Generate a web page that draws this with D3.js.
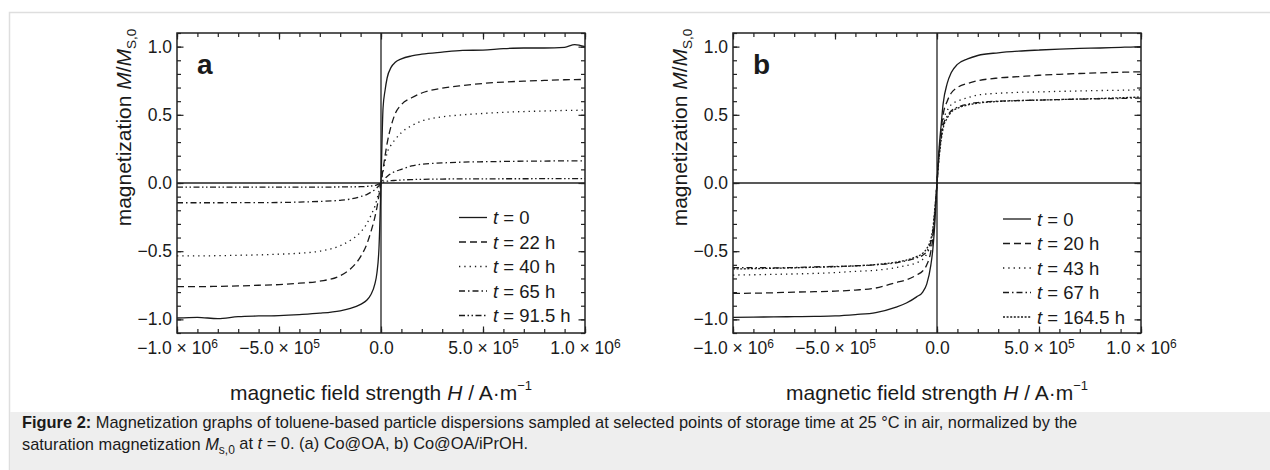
<!DOCTYPE html>
<html>
<head>
<meta charset="utf-8">
<script src="https://cdn.jsdelivr.net/npm/d3@7/dist/d3.min.js"></script>
<style>
  html, body { margin: 0; padding: 0; background: #ffffff; }
  svg { display: block; }
  text { font-family: "Liberation Sans", Arial, Helvetica, sans-serif; fill: #1a1a1a; }
</style>
</head>
<body>
<svg id="chart" width="1270" height="470"></svg>
<script>
// ---------------- DATA ----------------
// magnetic field strength H (A/m), common sample grid
const fieldH = [-1e6, -9e5, -8e5, -7e5, -6e5, -5e5, -4e5, -3e5, -2e5, -1.5e5, -1e5, -7e4, -5e4, -3e4, -2e4, -1e4,
                0, 1e4, 2e4, 3e4, 5e4, 7e4, 1e5, 1.5e5, 2e5, 3e5, 4e5, 5e5, 6e5, 7e5, 8e5, 9e5, 9.5e5, 1e6];

// panel a: Co@OA
const seriesLabelsA = ["0", "22 h", "40 h", "65 h", "91.5 h"];
const magA_t0   = [-0.99, -0.985, -0.995, -0.98, -0.975, -0.972, -0.965, -0.955, -0.937, -0.92, -0.89, -0.86, -0.82, -0.74, -0.66, -0.48,
                   0, 0.55, 0.68, 0.77, 0.85, 0.885, 0.91, 0.932, 0.945, 0.96, 0.972, 0.975, 0.985, 0.99, 0.99, 0.995, 1.015, 1.0];
const magA_t22  = [-0.76, -0.76, -0.758, -0.755, -0.75, -0.745, -0.735, -0.72, -0.68, -0.63, -0.54, -0.45, -0.36, -0.25, -0.18, -0.09,
                   0, 0.1, 0.2, 0.29, 0.42, 0.51, 0.575, 0.625, 0.66, 0.695, 0.715, 0.73, 0.74, 0.747, 0.752, 0.757, 0.758, 0.76];
const magA_t40  = [-0.535, -0.535, -0.533, -0.53, -0.527, -0.522, -0.515, -0.5, -0.46, -0.42, -0.36, -0.3, -0.24, -0.17, -0.12, -0.06,
                   0, 0.08, 0.16, 0.22, 0.28, 0.32, 0.37, 0.42, 0.455, 0.485, 0.5, 0.51, 0.518, 0.524, 0.528, 0.532, 0.533, 0.535];
const magA_t65  = [-0.145, -0.145, -0.145, -0.144, -0.144, -0.143, -0.14, -0.135, -0.127, -0.118, -0.1, -0.085, -0.068, -0.048, -0.035, -0.02,
                   0, 0.02, 0.035, 0.048, 0.07, 0.085, 0.1, 0.125, 0.138, 0.147, 0.153, 0.156, 0.158, 0.16, 0.161, 0.162, 0.162, 0.162];
const magA_t91  = [-0.03, -0.03, -0.03, -0.03, -0.03, -0.03, -0.03, -0.03, -0.029, -0.028, -0.027, -0.025, -0.022, -0.018, -0.013, -0.007,
                   0, 0.006, 0.01, 0.013, 0.017, 0.019, 0.022, 0.025, 0.027, 0.029, 0.03, 0.03, 0.031, 0.031, 0.032, 0.032, 0.032, 0.032];

// panel b: Co@OA/iPrOH
const seriesLabelsB = ["0", "20 h", "43 h", "67 h", "164.5 h"];
const magB_t0   = [-0.985, -0.983, -0.982, -0.98, -0.978, -0.975, -0.965, -0.95, -0.91, -0.88, -0.835, -0.8, -0.74, -0.6, -0.48, -0.28,
                   0, 0.25, 0.42, 0.58, 0.73, 0.81, 0.87, 0.91, 0.935, 0.955, 0.967, 0.975, 0.982, 0.987, 0.99, 0.995, 0.997, 1.0];
const magB_t20  = [-0.81, -0.808, -0.805, -0.8, -0.797, -0.793, -0.785, -0.77, -0.73, -0.71, -0.675, -0.645, -0.6, -0.5, -0.4, -0.22,
                   0, 0.22, 0.38, 0.5, 0.6, 0.66, 0.7, 0.73, 0.75, 0.77, 0.78, 0.79, 0.797, 0.803, 0.808, 0.812, 0.814, 0.815];
const magB_t43  = [-0.675, -0.673, -0.67, -0.667, -0.663, -0.657, -0.648, -0.64, -0.62, -0.605, -0.585, -0.56, -0.52, -0.44, -0.36, -0.2,
                   0, 0.2, 0.35, 0.45, 0.53, 0.575, 0.6, 0.625, 0.645, 0.658, 0.665, 0.668, 0.672, 0.675, 0.678, 0.68, 0.682, 0.683];
const magB_t67  = [-0.62, -0.62, -0.622, -0.62, -0.615, -0.612, -0.607, -0.6, -0.585, -0.57, -0.55, -0.53, -0.5, -0.43, -0.35, -0.2,
                   0, 0.2, 0.33, 0.42, 0.49, 0.53, 0.555, 0.578, 0.59, 0.6, 0.605, 0.608, 0.612, 0.615, 0.618, 0.62, 0.622, 0.622];
const magB_t164 = [-0.63, -0.628, -0.625, -0.622, -0.618, -0.614, -0.608, -0.598, -0.58, -0.565, -0.54, -0.515, -0.48, -0.41, -0.33, -0.18,
                   0, 0.18, 0.31, 0.4, 0.475, 0.52, 0.548, 0.572, 0.585, 0.598, 0.604, 0.608, 0.612, 0.616, 0.62, 0.625, 0.628, 0.63];

// ticks
const xMajorTicks = [-1e6, -5e5, 0, 5e5, 1e6];
const xTickMantissa = ["\u22121.0 \u00d7 10", "\u22125.0 \u00d7 10", "0.0", "5.0 \u00d7 10", "1.0 \u00d7 10"];
const xTickExponent = ["6", "5", "", "5", "6"];
const xMinorTicks = [-1e6, -9e5, -8e5, -7e5, -6e5, -5e5, -4e5, -3e5, -2e5, -1e5, 0, 1e5, 2e5, 3e5, 4e5, 5e5, 6e5, 7e5, 8e5, 9e5, 1e6];
const yMajorTicks = [-1, -0.5, 0, 0.5, 1];
const yTickLabels = ["\u22121.0", "\u22120.5", "0.0", "0.5", "1.0"];
const yMinorTicks = [-1.1, -1.0, -0.9, -0.8, -0.7, -0.6, -0.5, -0.4, -0.3, -0.2, -0.1, 0, 0.1, 0.2, 0.3, 0.4, 0.5, 0.6, 0.7, 0.8, 0.9, 1.0, 1.1];

// ---------------- DRAW ----------------
const svg = d3.select("#chart");
const FONT = '"Liberation Sans", Arial, Helvetica, sans-serif';
const TICK_FS = 17.5, LEGEND_FS = 18.5, TITLE_FS = 21, CAPTION_FS = 16.4;

// figure frame and caption box
svg.append("rect").attr("x", 9.5).attr("y", 12.5).attr("width", 1270).attr("height", 470)
   .attr("fill", "#ffffff").attr("stroke", "#dedede").attr("stroke-width", 1.5);
svg.append("rect").attr("x", 10).attr("y", 412).attr("width", 1260).attr("height", 58).attr("fill", "#eeeeee");

const dashStyles = [null, "7,4", "1.3,4", "6,3,1.5,3", "6,2.5,1.5,2.5,1.5,2.5"];
const dashStylesB = [null, "7,4", "1.3,4", "6,3,1.5,3", "2,1.6"];

function drawPanel(opts) {
  const { left, top, width, height, letter, series, labels, dashes, legendX, legendY } = opts;
  const g = svg.append("g").attr("transform", `translate(${left},${top})`);
  const x = d3.scaleLinear().domain([-1e6, 1e6]).range([0, width]);
  const y = d3.scaleLinear().domain([-1.1, 1.1]).range([height, 0]);

  // zero lines
  g.append("line").attr("x1", 0).attr("x2", width).attr("y1", y(0)).attr("y2", y(0))
   .attr("stroke", "#222").attr("stroke-width", 1.3);
  g.append("line").attr("x1", x(0)).attr("x2", x(0)).attr("y1", 0).attr("y2", height)
   .attr("stroke", "#222").attr("stroke-width", 1.3);

  // curves
  const line = d3.line().x((d) => x(d[0])).y((d) => y(d[1])).curve(d3.curveMonotoneX);
  series.forEach((vals, i) => {
    const pts = fieldH.map((h, k) => [h, vals[k]]);
    g.append("path").datum(pts).attr("d", line)
     .attr("fill", "none").attr("stroke", "#1a1a1a").attr("stroke-width", 1.3)
     .attr("stroke-dasharray", dashes[i]);
  });

  // axes (inward ticks on all sides)
  function styleAxis(sel) {
    sel.select(".domain").remove();
    sel.selectAll(".tick line").attr("stroke", "#222").attr("stroke-width", 1.2);
  }
  g.append("g").attr("transform", `translate(0,${height})`)
   .call(d3.axisBottom(x).tickValues(xMinorTicks).tickSize(-4).tickFormat(""))
   .call(styleAxis);
  g.append("g")
   .call(d3.axisTop(x).tickValues(xMinorTicks).tickSize(-4).tickFormat(""))
   .call(styleAxis);
  g.append("g")
   .call(d3.axisTop(x).tickValues(xMajorTicks).tickSize(-6.5).tickFormat(""))
   .call(styleAxis);
  const xb = g.append("g").attr("transform", `translate(0,${height})`)
   .call(d3.axisBottom(x).tickValues(xMajorTicks).tickSize(-6.5).tickPadding(9).tickFormat(""))
   .call(styleAxis);
  xb.selectAll(".tick text").each(function (d, i) {
    const t = d3.select(this).attr("font-size", TICK_FS).attr("font-family", FONT).attr("fill", "#1a1a1a")
                .attr("dy", "0.71em");
    t.append("tspan").text(xTickMantissa[i]);
    if (xTickExponent[i]) t.append("tspan").attr("font-size", 12).attr("dy", "-0.55em").text(xTickExponent[i]);
  });

  g.append("g").call(d3.axisLeft(y).tickValues(yMinorTicks).tickSize(-4).tickFormat("")).call(styleAxis);
  g.append("g").attr("transform", `translate(${width},0)`)
   .call(d3.axisRight(y).tickValues(yMinorTicks).tickSize(-4).tickFormat("")).call(styleAxis);
  g.append("g").attr("transform", `translate(${width},0)`)
   .call(d3.axisRight(y).tickValues(yMajorTicks).tickSize(-6.5).tickFormat("")).call(styleAxis);
  const yl = g.append("g")
   .call(d3.axisLeft(y).tickValues(yMajorTicks).tickSize(-6.5).tickPadding(5).tickFormat((d, i) => yTickLabels[i]))
   .call(styleAxis);
  yl.selectAll(".tick text").attr("font-size", TICK_FS).attr("font-family", FONT).attr("fill", "#1a1a1a");

  // frame
  g.append("rect").attr("x", 0).attr("y", 0).attr("width", width).attr("height", height)
   .attr("fill", "none").attr("stroke", "#222").attr("stroke-width", 1.5);

  // panel letter
  g.append("text").attr("x", 20).attr("y", 41).attr("font-size", 28).attr("font-weight", "bold").text(letter);

  // legend
  labels.forEach((lab, i) => {
    const ly = legendY + i * 24.5;
    g.append("line").attr("x1", legendX).attr("x2", legendX + 28).attr("y1", ly).attr("y2", ly)
     .attr("stroke", "#1a1a1a").attr("stroke-width", 1.3).attr("stroke-dasharray", dashes[i]);
    const t = g.append("text").attr("x", legendX + 34).attr("y", ly).attr("dy", "0.36em").attr("font-size", LEGEND_FS);
    t.append("tspan").attr("font-style", "italic").text("t");
    t.append("tspan").text(" = " + lab);
  });

  // axis titles
  const xt = g.append("text").attr("x", width / 2).attr("y", height + 67).attr("text-anchor", "middle").attr("font-size", TITLE_FS);
  xt.append("tspan").text("magnetic field strength ");
  xt.append("tspan").attr("font-style", "italic").text("H");
  xt.append("tspan").text(" / A\u00b7m");
  xt.append("tspan").attr("font-size", 13).attr("dy", "-0.75em").text("\u22121");

  const yt = g.append("text").attr("transform", `translate(-46,${94.5}) rotate(-90)`)
   .attr("text-anchor", "middle").attr("font-size", TITLE_FS);
  yt.append("tspan").text("magnetization ");
  yt.append("tspan").attr("font-style", "italic").text("M");
  yt.append("tspan").text("/");
  yt.append("tspan").attr("font-style", "italic").text("M");
  yt.append("tspan").attr("font-size", 13.5).attr("dy", "0.35em").text("S,0");
}

drawPanel({ left: 177, top: 33, width: 408, height: 300, letter: "a",
  series: [magA_t0, magA_t22, magA_t40, magA_t65, magA_t91], labels: seriesLabelsA, dashes: dashStyles,
  legendX: 282, legendY: 184.5 });
drawPanel({ left: 733, top: 33, width: 408, height: 300, letter: "b",
  series: [magB_t0, magB_t20, magB_t43, magB_t67, magB_t164], labels: seriesLabelsB, dashes: dashStylesB,
  legendX: 270, legendY: 186 });

// caption
const cap1 = svg.append("text").attr("x", 22).attr("y", 428).attr("font-size", CAPTION_FS);
cap1.append("tspan").attr("font-weight", "bold").text("Figure 2:");
cap1.append("tspan").text(" Magnetization graphs of toluene-based particle dispersions sampled at selected points of storage time at 25 \u00b0C in air, normalized by the");
const cap2 = svg.append("text").attr("x", 22).attr("y", 450).attr("font-size", CAPTION_FS);
cap2.append("tspan").text("saturation magnetization ");
cap2.append("tspan").attr("font-style", "italic").text("M");
cap2.append("tspan").attr("font-size", 12).attr("dy", "0.3em").text("s,0");
cap2.append("tspan").attr("dy", "-0.3em").text(" at ");
cap2.append("tspan").attr("font-style", "italic").text("t");
cap2.append("tspan").text(" = 0. (a) Co@OA, b) Co@OA/iPrOH.");
</script>
</body>
</html>
